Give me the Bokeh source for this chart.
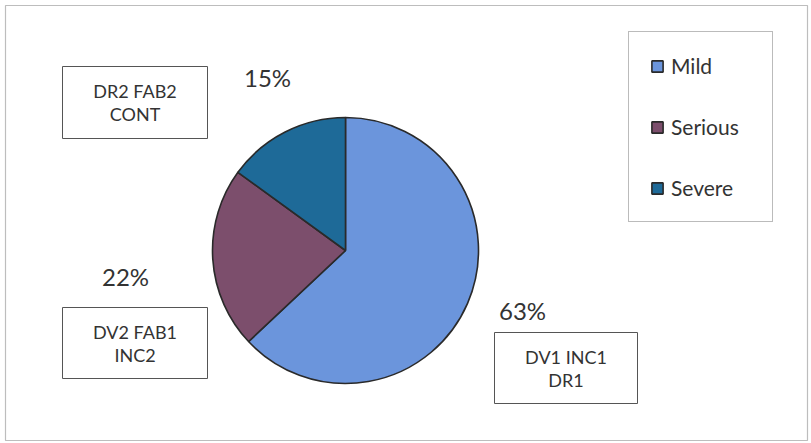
import numpy as np
from bokeh.plotting import figure
from bokeh.models import ColumnDataSource, Range1d, Legend, LegendItem
from bokeh.core.properties import value
from bokeh.embed import file_html
from bokeh.resources import INLINE

# ---- data ----
categories = ["Mild", "Serious", "Severe"]
percent = [63, 22, 15]
group_labels = [["DV1 INC1", "DR1"], ["DV2 FAB1", "INC2"], ["DR2 FAB2", "CONT"]]

# ---- style / layout ----
palette = ["#6b95dc", "#7c4e6c", "#1e6a98"]
W, H = 811, 443
FONT = "Lato"
TXT = "#333333"

def fy(y):
    return H - y

p = figure(width=W, height=H, output_backend="svg", toolbar_location=None,
           x_range=Range1d(0, W), y_range=Range1d(0, H), min_border=0,
           background_fill_color="white", border_fill_color="white")
p.axis.visible = False
p.grid.visible = False
p.outline_line_color = None

# outer frame
p.quad(left=[5], right=[807], bottom=[fy(440)], top=[fy(5)], fill_color=None,
       line_color="#bdbdbd", line_width=1.2)

# pie (clockwise from 12 o'clock)
frac = np.array(percent, dtype=float) / sum(percent)
cum = np.concatenate([[0.0], np.cumsum(frac)])
start = np.pi / 2 - 2 * np.pi * cum[1:]
end = np.pi / 2 - 2 * np.pi * cum[:-1]
src = ColumnDataSource(dict(cat=categories, start=start, end=end, color=palette))
cx, cy, r = 345, fy(250), 133
wr = p.wedge(x=cx, y=cy, radius=r, start_angle="start", end_angle="end",
             fill_color="color", line_color="#2a2a2a", line_width=1.6, source=src)

# percent labels
pct_pos = [(522, 310), (125, 276), (267, 77)]
p.text(x=[q[0] for q in pct_pos], y=[fy(q[1]) for q in pct_pos],
       text=[f"{v}%" for v in percent], text_font=value(FONT), text_font_size="24px",
       text_color=TXT, text_align="center", text_baseline="middle")

# group boxes
boxes = [(494, 637, 332, 403), (62, 207, 307, 378), (62, 207, 66, 138)]
p.quad(left=[b[0] for b in boxes], right=[b[1] for b in boxes],
       top=[fy(b[2]) for b in boxes], bottom=[fy(b[3]) for b in boxes],
       fill_color="white", line_color="#555555", line_width=1)
lx, ly, lt = [], [], []
for b, lines in zip(boxes, group_labels):
    xc = (b[0] + b[1]) / 2
    yc = (b[2] + b[3]) / 2
    for i, t in enumerate(lines):
        lx.append(xc)
        ly.append(fy(yc + (i - (len(lines) - 1) / 2) * 23))
        lt.append(t)
p.text(x=lx, y=ly, text=lt, text_font=value(FONT), text_font_size="18px",
       text_color=TXT, text_align="center", text_baseline="middle")

# legend
items = [LegendItem(label=c, renderers=[wr], index=i) for i, c in enumerate(categories)]
legend = Legend(items=items, location=(628, H - 222))
legend.border_line_color = "#777777"
legend.border_line_width = 1
legend.background_fill_color = "white"
legend.padding = 21
legend.margin = 0
legend.spacing = 36
legend.glyph_width = 14
legend.glyph_height = 14
legend.label_height = 20
legend.label_width = 80
legend.label_standoff = 7
legend.label_text_font = FONT
legend.label_text_font_size = "21px"
legend.label_text_color = TXT
legend.label_text_baseline = "middle"
p.add_layout(legend, "center")

open("out.html", "w").write(file_html(p, INLINE))
